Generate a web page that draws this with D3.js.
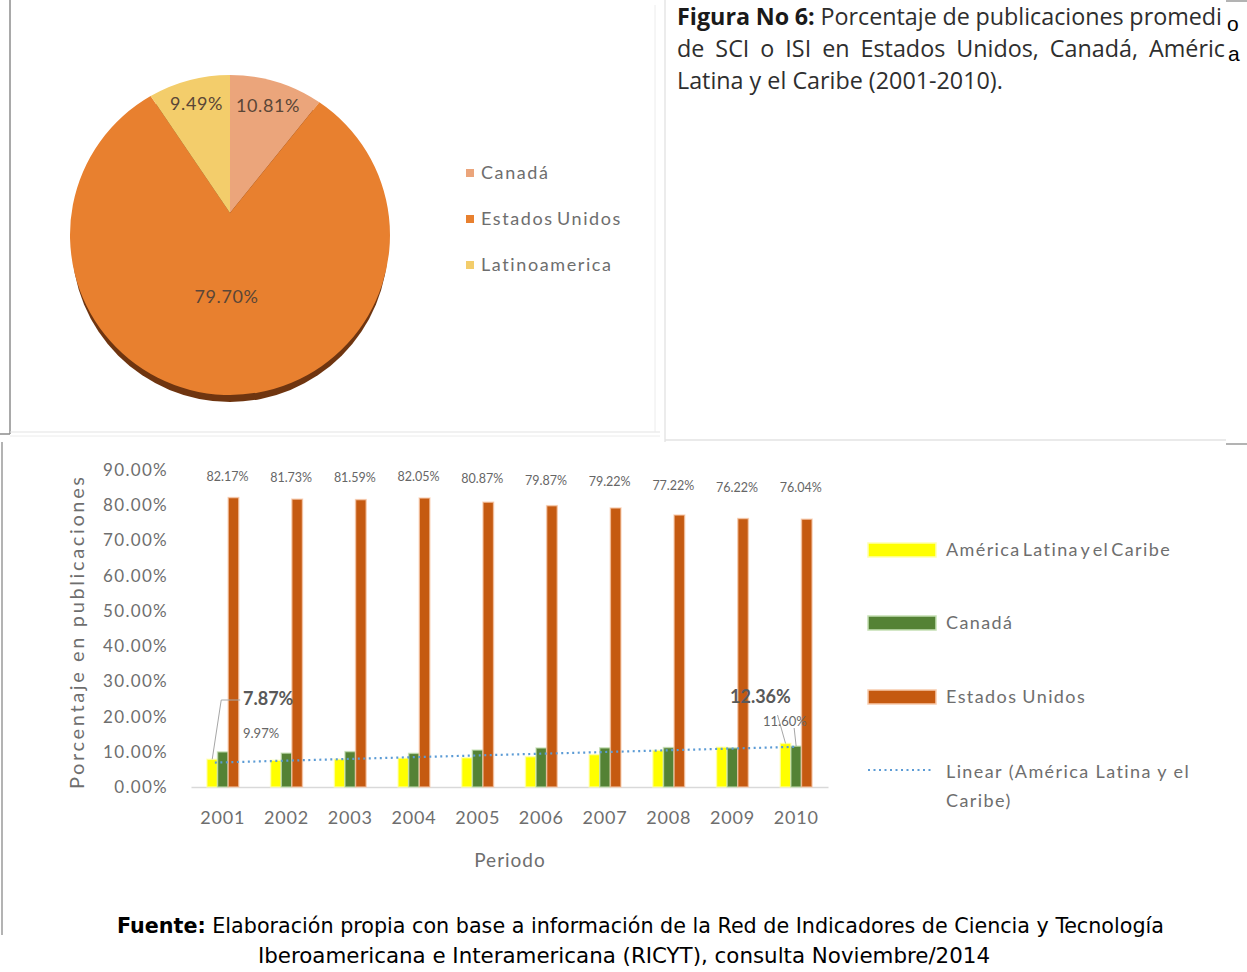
<!DOCTYPE html>
<html><head><meta charset="utf-8">
<script src="https://cdn.jsdelivr.net/npm/d3@7"></script>
<style>
html,body{margin:0;padding:0;background:#fff;}
svg{display:block;}
</style></head><body>
<svg id="c" width="1247" height="972"></svg>
<script>
// ---------- data ----------
const pieLabels = ["Canadá", "Estados Unidos", "Latinoamerica"];
const pieValues = [10.81, 79.70, 9.49];
const pieColors = ["#eba57b", "#e8802f", "#f3cd6b"];

const years = ["2001","2002","2003","2004","2005","2006","2007","2008","2009","2010"];
const latam  = [7.87, 7.60, 7.90, 8.20, 8.30, 8.60, 9.20, 10.40, 11.30, 12.36];
const canada = [9.97, 9.62, 10.05, 9.55, 10.49, 11.08, 11.12, 11.20, 11.10, 11.60];
const usa    = [82.17, 81.73, 81.59, 82.05, 80.87, 79.87, 79.22, 77.22, 76.22, 76.04];
const seriesKeys = ["latam", "canada", "usa"];
const seriesNames = ["América Latina y el Caribe", "Canadá", "Estados Unidos"];
const seriesColors = ["#ffff00", "#548235", "#c55a11"];
const seriesGlow = ["#ffffb0", "#c5e0b4", "#f8cbad"];
const yTicks = [0, 0.1, 0.2, 0.3, 0.4, 0.5, 0.6, 0.7, 0.8, 0.9];
const trendName = ["Linear (América Latina y el", "Caribe)"];

const F = "Lato, 'Open Sans', sans-serif";
const GRAY = "#6e6e6e";
const svg = d3.select("#c");

// ---------- frames ----------
const fr = svg.append("g").attr("fill", "none");
function ln(x1,y1,x2,y2,c,w){fr.append("line").attr("x1",x1).attr("y1",y1).attr("x2",x2).attr("y2",y2).attr("stroke",c).attr("stroke-width",w||1);}
ln(10,0,10,434,"#8c8c8c",1.5);
ln(0,434,10,434,"#8c8c8c",1.5);
ln(10,432,660,432,"#e3e3e3",1);
ln(10,436,660,436,"#ececec",1);
ln(655,5,655,432,"#ececec",1);
ln(665,0,665,442,"#d9d9d9",1);
ln(665,440,1226,440,"#e3e3e3",1.5);
ln(1226,444,1247,444,"#9a9a9a",1.5);
ln(1226,1,1247,1,"#9a9a9a",1.5);
ln(2,442,2,935,"#9a9a9a",1.5);

// ---------- pie (perspective: apex above circle centre) ----------
const P = {ax:230, ay:213, cx:230, cy:235, r:160};
function hit(theta){
  const dx = Math.sin(theta), dy = -Math.cos(theta);
  const ox = P.ax - P.cx, oy = P.ay - P.cy;
  const b = ox*dx + oy*dy, c = ox*ox + oy*oy - P.r*P.r;
  const s = -b + Math.sqrt(b*b - c);
  return [P.ax + s*dx, P.ay + s*dy];
}
function cang(p){ return Math.atan2(p[0] - P.cx, -(p[1] - P.cy)); }
svg.append("circle").attr("cx", P.cx).attr("cy", P.cy + 9).attr("r", P.r - 2).attr("fill", "#6f3510");
const arcs = d3.pie().sort(null).value(d => d)(pieValues);
svg.append("g").selectAll("path").data(arcs).join("path")
  .attr("d", d => {
    const p0 = hit(d.startAngle), p1 = hit(d.endAngle);
    let diff = cang(p1) - cang(p0);
    while (diff < 0) diff += 2*Math.PI;
    return `M${P.ax},${P.ay}L${p0[0]},${p0[1]}A${P.r},${P.r} 0 ${diff > Math.PI ? 1 : 0} 1 ${p1[0]},${p1[1]}Z`;
  })
  .attr("fill", (d,i) => pieColors[i]);
arcs.forEach((d,i) => {
  const share = d.value / d3.sum(pieValues);
  const f = share < 0.2 ? 0.82 : 0.46;
  const e = hit((d.startAngle + d.endAngle) / 2);
  svg.append("text").attr("x", P.ax + f*(e[0]-P.ax)).attr("y", P.ay + f*(e[1]-P.ay)).attr("dy", "0.35em")
    .attr("text-anchor", "middle").attr("font-family", F).attr("font-size", 18)
    .attr("letter-spacing", 0.6).attr("fill", "#5a4637")
    .text(d3.format(".2f")(d.value) + "%");
});
// pie legend
pieLabels.forEach((t,i) => {
  const yy = 173 + i * 46;
  svg.append("rect").attr("x", 466).attr("y", yy - 4).attr("width", 8).attr("height", 8).attr("fill", pieColors[i]);
  svg.append("text").attr("x", 481).attr("y", yy).attr("dy", "0.35em")
    .attr("font-family", F).attr("font-size", 18).attr("letter-spacing", 1.6).attr("word-spacing", -3)
    .attr("fill", GRAY).text(t);
});

// ---------- title ----------
const TF = "'Open Sans', 'Noto Sans', sans-serif";
function justify(sel, target){
  const len = sel.node().getComputedTextLength();
  const spaces = (sel.text().match(/ /g) || []).length;
  if (spaces) sel.attr("word-spacing", (target - len) / spaces);
}
const t3 = svg.append("text").attr("x", 677).attr("y", 89).attr("font-family", TF).attr("font-size", 19)
  .attr("fill", "#2e2e2e").text("Latina y el Caribe (2001-2010).");
const tfs = 19 * 326 / t3.node().getComputedTextLength();
t3.attr("font-size", tfs);
const t1 = svg.append("text").attr("x", 677).attr("y", 25).attr("font-family", TF).attr("font-size", tfs)
  .attr("fill", "#2e2e2e");
t1.append("tspan").attr("font-weight", "bold").attr("fill", "#1a1a1a").text("Figura No 6:");
t1.append("tspan").text(" Porcentaje de publicaciones promedi");
justify(t1, 545);
const t2 = svg.append("text").attr("x", 677).attr("y", 57).attr("font-family", TF).attr("font-size", tfs)
  .attr("fill", "#2e2e2e").text("de SCI o ISI en Estados Unidos, Canadá, Améric");
justify(t2, 548);
svg.append("text").attr("x", 1227).attr("y", 31).attr("font-family", "'Liberation Sans', Arial, sans-serif")
  .attr("font-size", 21).attr("fill", "#000").text("o");
svg.append("text").attr("x", 1228).attr("y", 61).attr("font-family", "'Liberation Sans', Arial, sans-serif")
  .attr("font-size", 21).attr("fill", "#000").text("a");

// ---------- bar chart ----------
const y = d3.scaleLinear().domain([0, 0.9]).range([787, 470]);
const x0 = d3.scaleBand().domain(years).range([191, 828]).paddingInner(0.5).paddingOuter(0.25);
const x1 = d3.scaleBand().domain(seriesKeys).range([0, x0.bandwidth()]);
const seriesData = {latam, canada, usa};

const ya = svg.append("g").attr("transform", "translate(170,0)")
  .call(d3.axisLeft(y).tickValues(yTicks).tickFormat(d3.format(".2%")).tickSize(0).tickPadding(2));
ya.select(".domain").remove();
ya.selectAll("text").attr("font-family", F).attr("font-size", 17).attr("letter-spacing", 1.3).attr("fill", GRAY);

const xa = svg.append("g").attr("transform", "translate(0,787)")
  .call(d3.axisBottom(x0).tickSize(0).tickPadding(24));
xa.select(".domain").attr("stroke", "#d9d9d9").attr("stroke-width", 1.5);
xa.selectAll("text").attr("font-family", F).attr("font-size", 18).attr("letter-spacing", 0.8).attr("fill", GRAY);

const bg = svg.append("g");
seriesKeys.forEach((k, si) => {
  bg.selectAll(null).data(seriesData[k]).join("rect")
    .attr("x", (d,i) => x0(years[i]) + x1(k))
    .attr("y", d => y(d / 100))
    .attr("width", x1.bandwidth())
    .attr("height", d => y(0) - y(d / 100))
    .attr("fill", seriesColors[si])
    .attr("stroke", seriesGlow[si]).attr("stroke-width", 1.5).attr("stroke-opacity", 0.7);
});

// trend line (least squares on América Latina)
const n = latam.length;
const xs = d3.range(1, n + 1);
const mx = d3.mean(xs), my = d3.mean(latam);
const slope = d3.sum(xs, (v,i) => (v - mx) * (latam[i] - my)) / d3.sum(xs, v => (v - mx) * (v - mx));
const icpt = my - slope * mx;
const cx = yr => x0(yr) + x0.bandwidth() / 2;
svg.append("line")
  .attr("x1", cx(years[0]) - 8).attr("y1", y((icpt + slope * 1) / 100))
  .attr("x2", cx(years[n - 1])).attr("y2", y((icpt + slope * n) / 100))
  .attr("stroke", "#5b9bd5").attr("stroke-width", 2.2).attr("stroke-dasharray", "2,3.5");

usa.forEach((v, i) => {
  const bx = x0(years[i]) + x1("usa") + x1.bandwidth() / 2 - 6;
  const by = (y(v / 100) + y(0.9)) / 2 - 7;
  svg.append("text").attr("x", bx).attr("y", by).attr("dy", "0.35em").attr("text-anchor", "middle")
    .attr("font-family", F).attr("font-size", 12.5).attr("fill", "#666").text(d3.format(".2f")(v) + "%");
});

function barTop(k, i){ return [x0(years[i]) + x1(k) + x1.bandwidth() / 2, y(seriesData[k][i] / 100)]; }
const lead = svg.append("g").attr("fill", "none").attr("stroke", "#a6a6a6").attr("stroke-width", 1);
let p = barTop("latam", 0);
lead.append("polyline").attr("points", `${p[0]},${p[1]} ${p[0] + 9},${700} ${p[0] + 28},${700}`);
p = barTop("latam", 9);
lead.append("line").attr("x1", p[0]).attr("y1", p[1]).attr("x2", p[0] - 8).attr("y2", 715);
p = barTop("canada", 9);
lead.append("line").attr("x1", p[0]).attr("y1", p[1]).attr("x2", p[0] - 2).attr("y2", 728);

svg.append("text").attr("x", 243).attr("y", 699).attr("dy", "0.35em").attr("font-family", F)
  .attr("font-size", 18).attr("font-weight", "bold").attr("fill", "#595959").text(d3.format(".2f")(latam[0]) + "%");
svg.append("text").attr("x", 243).attr("y", 733).attr("dy", "0.35em").attr("font-family", F)
  .attr("font-size", 13).attr("fill", "#666").text(d3.format(".2f")(canada[0]) + "%");
svg.append("text").attr("x", 730).attr("y", 697).attr("dy", "0.35em").attr("font-family", F)
  .attr("font-size", 18).attr("font-weight", "bold").attr("fill", "#595959").text(d3.format(".2f")(latam[9]) + "%");
svg.append("text").attr("x", 763).attr("y", 721).attr("dy", "0.35em").attr("font-family", F)
  .attr("font-size", 13).attr("fill", "#666").text(d3.format(".2f")(canada[9]) + "%");

svg.append("text").attr("transform", "translate(77,633) rotate(-90)").attr("text-anchor", "middle")
  .attr("dy", "0.35em").attr("font-family", F).attr("font-size", 20).attr("fill", GRAY)
  .attr("textLength", 312).attr("lengthAdjust", "spacing").text("Porcentaje en publicaciones");
svg.append("text").attr("x", 510).attr("y", 860).attr("dy", "0.35em").attr("text-anchor", "middle")
  .attr("font-family", F).attr("font-size", 19).attr("letter-spacing", 1).attr("fill", GRAY).text("Periodo");

// legend
const lg = svg.append("g");
const legY = [550, 623, 697];
seriesNames.forEach((t, i) => {
  lg.append("rect").attr("x", 868).attr("y", legY[i] - 7).attr("width", 68).attr("height", 14)
    .attr("fill", seriesColors[i]).attr("stroke", seriesGlow[i]).attr("stroke-width", 1.5);
  lg.append("text").attr("x", 946).attr("y", legY[i]).attr("dy", "0.35em").attr("font-family", F)
    .attr("font-size", 18).attr("letter-spacing", 1.4).attr("word-spacing", i === 0 ? -4 : -1)
    .attr("fill", GRAY).text(t);
});
lg.append("line").attr("x1", 868).attr("y1", 770).attr("x2", 934).attr("y2", 770)
  .attr("stroke", "#5b9bd5").attr("stroke-width", 2.2).attr("stroke-dasharray", "2,3.5");
trendName.forEach((t, i) => {
  lg.append("text").attr("x", 946).attr("y", 772 + i * 29).attr("dy", "0.35em").attr("font-family", F)
    .attr("font-size", 18).attr("letter-spacing", 1.4).attr("fill", GRAY).text(t);
});

// ---------- footer ----------
const FF = "'Liberation Sans Narrow', 'DejaVu Sans Condensed', 'Liberation Sans', sans-serif";
const f1 = svg.append("text").attr("x", 117).attr("y", 933).attr("font-family", FF).attr("font-size", 22)
  .attr("fill", "#000").attr("textLength", 1047).attr("lengthAdjust", "spacingAndGlyphs");
f1.append("tspan").attr("font-weight", "bold").text("Fuente:");
f1.append("tspan").text(" Elaboración propia con base a información de la Red de Indicadores de Ciencia y Tecnología");
svg.append("text").attr("x", 258).attr("y", 963).attr("font-family", FF).attr("font-size", 22)
  .attr("fill", "#000").attr("textLength", 732).attr("lengthAdjust", "spacingAndGlyphs")
  .text("Iberoamericana e Interamericana (RICYT), consulta Noviembre/2014");
</script>
</body></html>
